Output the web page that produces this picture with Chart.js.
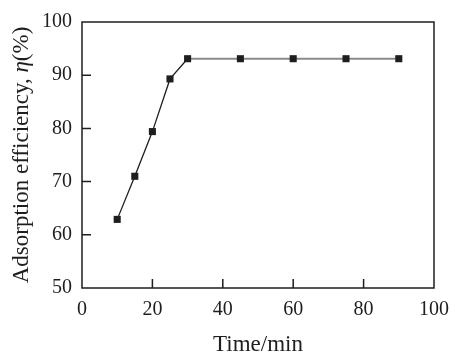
<!DOCTYPE html>
<html>
<head>
<meta charset="utf-8">
<script src="https://cdn.jsdelivr.net/npm/chart.js@4"></script>
<style>
  html, body { margin: 0; padding: 0; background: #fff; }
  #wrap { width: 476px; height: 359px; }
</style>
</head>
<body>
<div id="wrap"><canvas id="chart" width="476" height="359"></canvas></div>
<script>
// --- DATOS ---
const tiempos = [10, 15, 20, 25, 30, 45, 60, 75, 90];
const eficiencia = [62.9, 71.0, 79.4, 89.3, 93.1, 93.1, 93.1, 93.1, 93.1];
const ticksX = [0, 20, 40, 60, 80, 100];
const ticksY = [50, 60, 70, 80, 90, 100];
const tituloY = ['Adsorption efficiency, ', 'η', '(%)'];

const fuente = "'Liberation Serif', 'Times New Roman', serif";
const negro = '#1e1e1e';

// marco, ticks hacia adentro y título Y con η en cursiva
const marcoPlugin = {
  id: 'marco',
  afterDraw(chart) {
    const { ctx, chartArea: a, scales } = chart;
    ctx.save();
    ctx.strokeStyle = negro;
    ctx.lineWidth = 1.5;
    ctx.strokeRect(a.left, a.top, a.right - a.left, a.bottom - a.top);
    ctx.beginPath();
    ticksX.slice(1, -1).forEach(v => {
      const x = scales.x.getPixelForValue(v);
      ctx.moveTo(x, a.bottom);
      ctx.lineTo(x, a.bottom - 9);
    });
    ticksY.slice(1, -1).forEach(v => {
      const y = scales.y.getPixelForValue(v);
      ctx.moveTo(a.left, y);
      ctx.lineTo(a.left + 9, y);
    });
    ctx.stroke();

    // título del eje Y
    const fonts = ['23px ' + fuente, 'italic 23px ' + fuente, '23px ' + fuente];
    let total = 0;
    const anchos = tituloY.map((t, i) => { ctx.font = fonts[i]; const w = ctx.measureText(t).width; total += w; return w; });
    ctx.translate(22, (a.top + a.bottom) / 2);
    ctx.rotate(-Math.PI / 2);
    ctx.fillStyle = negro;
    ctx.textBaseline = 'middle';
    ctx.textAlign = 'left';
    let x = -total / 2;
    tituloY.forEach((t, i) => {
      ctx.font = fonts[i];
      ctx.fillText(t, x, 0);
      x += anchos[i];
    });
    ctx.restore();
  }
};

new Chart(document.getElementById('chart'), {
  type: 'line',
  data: {
    datasets: [{
      data: tiempos.map((t, i) => ({ x: t, y: eficiencia[i] })),
      borderColor: negro,
      borderWidth: 1.3,
      pointStyle: 'rect',
      pointRadius: 5,
      pointBackgroundColor: negro,
      pointBorderColor: negro,
      pointBorderWidth: 0,
      tension: 0,
      segment: {
        borderColor: c => c.p0.parsed.x >= 30 ? '#8a8a8a' : negro,
        borderWidth: c => c.p0.parsed.x >= 30 ? 2 : 1.3
      }
    }]
  },
  plugins: [marcoPlugin],
  options: {
    responsive: false,
    animation: false,
    layout: { padding: { top: 20, right: 42, left: 0, bottom: 0 } },
    plugins: { legend: { display: false }, tooltip: { enabled: false } },
    scales: {
      x: {
        type: 'linear',
        min: 0, max: 100,
        afterBuildTicks: s => { s.ticks = ticksX.map(v => ({ value: v })); },
        afterFit: s => { s.height = 71; },
        grid: { display: false, drawTicks: false },
        border: { display: false },
        ticks: { color: negro, font: { family: fuente, size: 20 }, padding: 10, maxRotation: 0 },
        title: { display: true, text: 'Time/min', color: negro, font: { family: fuente, size: 23 }, padding: { top: 2, bottom: 0 } }
      },
      y: {
        min: 50, max: 100,
        afterBuildTicks: s => { s.ticks = ticksY.map(v => ({ value: v })); },
        afterFit: s => { s.width = 82; },
        grid: { display: false, drawTicks: false },
        border: { display: false },
        ticks: { color: negro, font: { family: fuente, size: 20 }, padding: 10 }
      }
    }
  }
});
</script>
</body>
</html>
